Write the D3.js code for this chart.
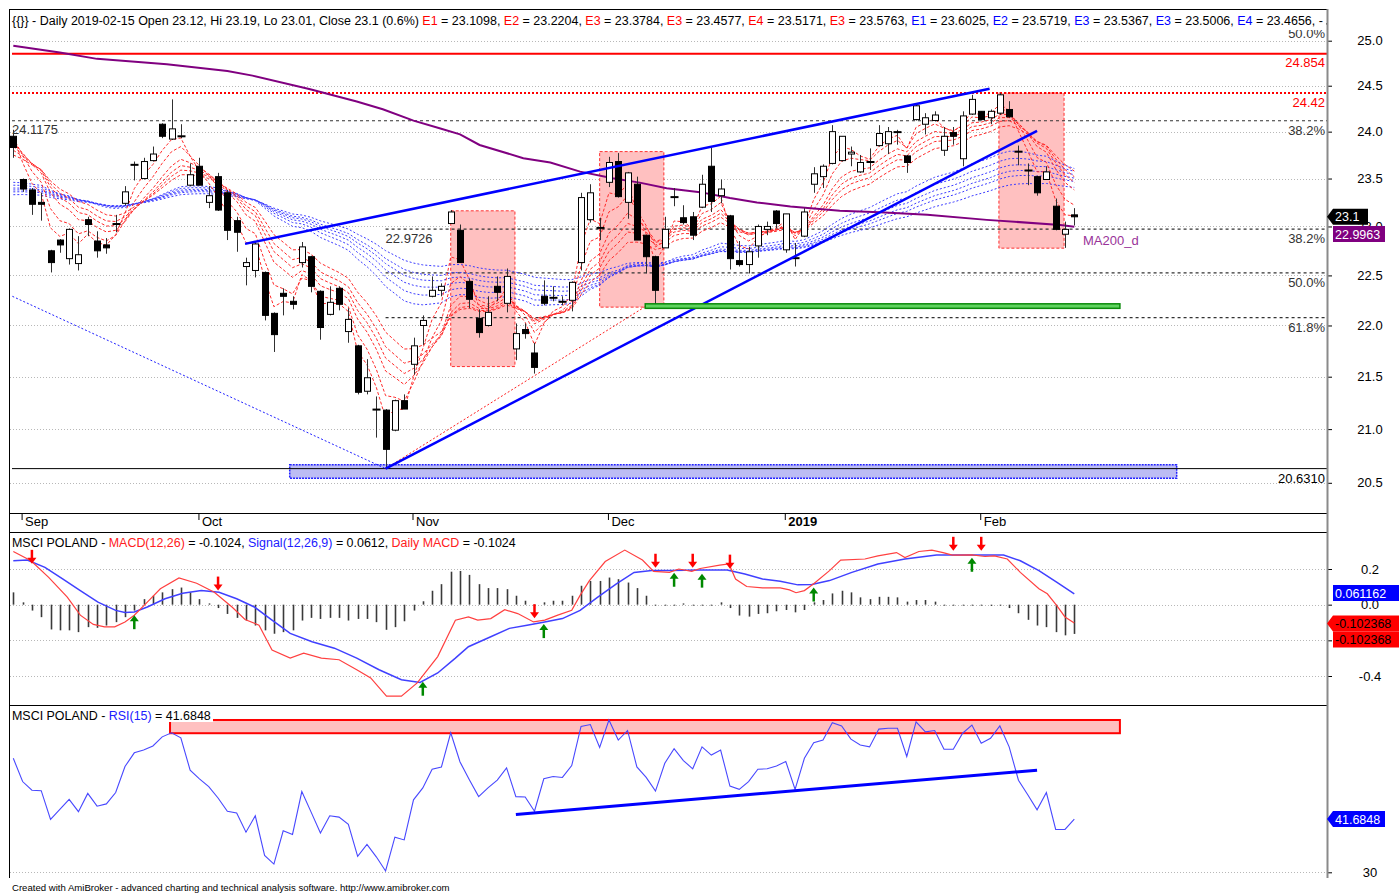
<!DOCTYPE html>
<html><head><meta charset="utf-8">
<script src="https://cdn.jsdelivr.net/npm/d3@7/dist/d3.min.js"></script>
<style>
html,body{margin:0;padding:0;background:#fff;}
svg{display:block;font-family:"Liberation Sans",Arial,sans-serif;}
</style></head><body>
<svg id="chart" width="1399" height="894"></svg>
<script>
// ---------------- DATA ----------------
const openP=[23.95,23.49,23.38,23.25,22.75,22.86,22.67,22.62,23.07,22.85,
22.81,23.03,23.24,23.64,23.50,23.69,24.08,23.92,23.95,23.43,
23.63,23.25,23.52,23.35,23.06,22.59,22.55,22.53,22.12,22.32,
22.24,22.63,22.69,22.34,22.11,22.37,21.94,21.80,21.36,21.19,
21.18,20.99,21.27,21.62,22.00,22.29,22.35,23.03,22.96,22.44,
22.07,22.00,22.39,22.22,21.77,21.96,21.73,22.29,22.28,22.24,
22.25,22.63,23.07,22.99,23.46,23.68,23.25,23.44,22.91,22.69,
22.78,23.30,23.09,23.10,23.20,23.63,23.32,23.11,22.65,22.61,
22.80,22.97,23.16,22.76,22.68,22.90,23.44,23.52,23.66,23.69,
23.76,23.57,23.68,23.85,23.87,23.99,23.74,24.13,24.08,24.12,
23.80,23.99,23.71,24.19,24.22,24.15,24.20,24.24,23.79,23.59,
23.52,23.49,23.21,22.92,23.12];
const highP=[24.02,23.50,23.40,23.35,22.76,22.87,22.98,22.90,23.10,22.95,
22.88,23.12,23.42,23.68,23.72,23.84,24.09,24.35,24.08,23.66,
23.72,23.42,23.56,23.38,23.10,22.68,22.84,22.54,22.13,22.37,
22.29,22.84,22.70,22.35,22.39,22.39,22.17,21.81,21.67,21.31,
21.19,21.28,21.33,21.88,22.10,22.49,22.42,23.17,23.02,22.47,
22.16,22.29,22.49,22.57,22.02,22.02,21.83,22.45,22.39,22.29,
22.44,23.35,23.44,23.09,23.73,23.77,23.57,23.52,22.91,22.70,
23.10,23.40,23.22,23.15,23.54,23.83,23.49,23.12,22.85,22.79,
23.02,23.05,23.17,23.13,22.83,23.19,23.62,23.65,24.07,23.95,
23.84,23.75,23.82,24.07,24.05,24.02,23.75,24.29,24.20,24.22,
24.05,24.05,24.22,24.40,24.22,24.24,24.42,24.33,23.85,23.66,
23.53,23.63,23.29,23.05,23.19];
const lowP=[23.72,23.36,23.12,23.06,22.53,22.73,22.61,22.55,22.90,22.68,
22.72,22.94,23.22,23.48,23.49,23.68,23.93,23.91,23.93,23.42,
23.43,23.19,23.16,22.86,22.74,22.40,22.48,22.05,21.74,22.10,
22.16,22.58,22.33,21.86,22.10,22.15,21.83,21.33,21.33,20.92,
20.631,20.98,21.19,21.52,21.81,22.28,22.29,23.03,22.63,22.17,
21.88,21.99,22.24,22.13,21.66,21.87,21.53,22.20,22.24,22.20,
22.14,22.55,23.04,22.86,23.41,23.30,23.08,22.86,22.52,22.20,
22.78,23.21,23.02,22.86,23.19,23.15,23.24,22.56,22.59,22.52,
22.68,22.91,22.98,22.73,22.59,22.89,23.35,23.40,23.65,23.68,
23.63,23.56,23.59,23.84,23.76,23.86,23.56,24.12,23.97,24.11,
23.74,23.86,23.63,24.18,24.12,24.08,24.18,24.15,23.64,23.43,
23.32,23.49,22.96,22.78,23.01];
const closeP=[23.83,23.39,23.23,23.23,22.63,22.81,22.97,22.71,23.02,22.75,
22.78,23.02,23.36,23.65,23.68,23.76,23.95,24.03,23.95,23.54,
23.43,23.32,23.17,22.96,22.94,22.63,22.82,22.10,21.91,22.29,
22.21,22.79,22.39,21.98,22.23,22.21,22.06,21.35,21.49,21.18,
20.81,21.27,21.19,21.80,22.05,22.35,22.39,23.15,22.63,22.26,
21.93,22.13,22.33,22.49,21.92,21.92,21.59,22.22,22.27,22.23,
22.43,23.30,23.35,22.98,23.67,23.31,23.56,22.86,22.69,22.35,
22.97,23.31,23.04,22.91,23.44,23.26,23.39,22.67,22.61,22.74,
23.00,23.00,23.03,23.13,22.67,23.15,23.55,23.63,24.00,23.95,
23.78,23.67,23.67,23.98,24.00,24.00,23.67,24.28,24.15,24.18,
23.95,23.95,24.17,24.35,24.13,24.22,24.40,24.16,23.78,23.58,
23.35,23.57,22.97,22.97,23.10];

const monthLabels=["Sep","Oct","Nov","Dec","2019","Feb"];
const monthIdx=[1,20,43,64,83,104];

const priceTicks=[25,24.5,24,23.5,23,22.5,22,21.5,21,20.5];
const macdTicks=[0.2,0,-0.2,-0.4];
const macdTickLabels=["0.2","0.0","","-0.4"]; // -0.2 is hidden behind the value tags
const rsiTicks=[30];

// MA200: [bar index, value]
const ma200Pts=[[0,24.944],[5,24.867],[9,24.797],[16.5,24.738],[23,24.663],[25.7,24.611],[31.9,24.461],[36.9,24.326],[39.7,24.243],[43,24.119],[45.8,24.036],[48,23.971],[50.1,23.857],[54.8,23.716],[57.7,23.669],[60.9,23.573],[64.4,23.503],[67.3,23.457],[70.2,23.399],[73.8,23.357],[77,23.295],[79.9,23.249],[83.5,23.207],[88.8,23.162],[93.1,23.148],[98.2,23.12],[104.6,23.068],[112.5,23.016],[114,22.996]];

// Guppy EMA groups
const emaShortPeriods=[3,5,8,10,12,15];
const emaShortSeed=[23.95,23.93,23.88,23.84,23.80,23.75];
const emaLongPeriods=[30,35,40,45,50,60];
const emaLongSeed=[23.46,23.43,23.40,23.38,23.36,23.33];

// MACD panel
const macdPts=[[0,0.298],[1.9,0.246],[3.8,0.153],[5.8,0.042],[7.2,-0.059],[8.6,-0.111],[9.8,-0.124],[10.9,-0.124],[12,-0.097],[13,-0.059],[14.4,0.014],[15.8,0.089],[17.8,0.15],[19.7,0.12],[21.6,0.07],[23.5,-0.013],[24.9,-0.083],[26.4,-0.115],[27.8,-0.254],[29.75,-0.3],[31.2,-0.272],[33.1,-0.3],[35,-0.309],[36.9,-0.365],[38.4,-0.411],[40.1,-0.513],[41.7,-0.513],[43.4,-0.439],[45.6,-0.291],[47.5,-0.087],[48.9,-0.069],[49.9,-0.087],[51.3,-0.078],[52.8,-0.028],[54.2,-0.05],[55.9,-0.097],[57.1,-0.087],[58.5,-0.059],[60,-0.032],[60.9,0.052],[61.9,0.135],[63.6,0.242],[65.7,0.306],[67.6,0.25],[68.8,0.187],[70.5,0.181],[71.5,0.2],[72.9,0.187],[73.8,0.203],[75.9,0.222],[76.9,0.228],[77.6,0.144],[78.8,0.102],[80.5,0.094],[82.4,0.094],[83.4,0.083],[84.1,0.067],[85,0.079],[86,0.117],[87.7,0.191],[88.9,0.25],[91.5,0.256],[92.9,0.274],[94.9,0.292],[95.8,0.264],[97.3,0.298],[98.7,0.306],[99.9,0.292],[100.9,0.278],[103,0.279],[104.4,0.27],[105.4,0.274],[106.8,0.256],[108.2,0.181],[110.2,0.089],[111.1,0.061],[112.1,-0.004],[113,-0.069],[114,-0.1024]];
const signalPts=[[0,0.246],[1.5,0.25],[3.4,0.209],[5.3,0.144],[7.2,0.079],[9.1,0.014],[11,-0.032],[12,-0.044],[13,-0.041],[14.4,-0.013],[16.3,0.033],[18.2,0.064],[20.2,0.079],[22.1,0.07],[24,0.033],[25.9,-0.013],[27.8,-0.087],[29.75,-0.161],[32.1,-0.208],[34.5,-0.244],[36.9,-0.3],[39.3,-0.365],[41.7,-0.421],[43.7,-0.436],[45.6,-0.383],[47.5,-0.3],[48.9,-0.236],[51.3,-0.18],[53.3,-0.133],[55.2,-0.115],[57.1,-0.097],[59,-0.078],[60.9,-0.032],[62.8,0.042],[64.8,0.117],[66.7,0.181],[68.6,0.191],[70.5,0.191],[73.8,0.194],[76.7,0.194],[78.6,0.172],[80.5,0.144],[82.4,0.131],[84.3,0.111],[85.8,0.113],[87.7,0.135],[90.1,0.181],[92.9,0.228],[95.8,0.256],[99.2,0.279],[102.5,0.279],[106.4,0.278],[108.2,0.246],[110.2,0.191],[112.1,0.126],[114,0.0612]];
const histVals=[0.069,0.013,-0.033,-0.07,-0.139,-0.144,-0.144,-0.154,-0.126,-0.13,
-0.117,-0.098,-0.07,-0.033,0.031,0.05,0.069,0.087,0.096,0.069,
0.031,0.007,-0.019,-0.052,-0.074,-0.089,-0.117,-0.144,-0.163,-0.154,
-0.144,-0.089,-0.074,-0.08,-0.074,-0.074,-0.089,-0.08,-0.08,-0.098,
-0.141,-0.126,-0.093,-0.033,0.019,0.078,0.115,0.185,0.189,0.167,
0.115,0.093,0.093,0.087,0.05,0.022,-0.005,0.013,0.022,0.022,
0.05,0.106,0.133,0.133,0.152,0.143,0.124,0.093,0.05,-0.005,
0.004,0.003,0.007,0,0,0.004,0.013,-0.019,-0.061,-0.067,
-0.052,-0.048,-0.037,-0.03,-0.043,-0.03,0.013,0.026,0.063,0.078,
0.069,0.041,0.031,0.044,0.044,0.041,0.017,0.026,0.026,0.017,
0.004,0,0,0,0,-0.007,0,-0.019,-0.048,-0.085,
-0.117,-0.126,-0.154,-0.172,-0.164];
const sellArrows=[[2,0.229],[22,0.079],[56,-0.076],[69,0.207],[73,0.207],[77,0.202],[101,0.302],[104,0.302]];
const buyArrows=[[13,-0.059],[44,-0.432],[57,-0.109],[71,0.179],[74,0.174],[86,0.096],[103,0.263]];

// RSI panel
const rsiVals=[55.0,49.9,48.0,47.9,41.6,43.8,46.0,43.3,47.3,44.5,
45.0,47.5,53.2,56.2,56.8,57.7,59.7,60.6,59.5,52.4,
50.5,48.8,46.3,43.4,43.0,38.8,42.4,33.7,31.8,39.1,
38.3,47.7,43.2,38.6,42.4,42.1,40.5,33.5,36.1,33.4,
30.3,37.7,37.1,45.9,48.5,52.6,53.1,60.6,54.2,50.3,
46.6,48.5,50.2,52.9,46.6,46.5,43.4,50.5,51.0,50.8,
53.4,62.0,62.4,57.4,63.4,59.0,61.1,53.1,50.8,47.8,
53.9,57.1,54.5,52.7,57.5,55.7,56.8,48.9,48.2,49.9,
52.6,52.7,53.3,54.3,48.2,55.0,58.4,59.0,62.8,62.1,
59.2,57.9,57.5,61.4,61.6,61.6,55.4,63.0,60.8,61.1,
57.0,57.0,60.5,62.3,58.3,59.4,62.1,57.5,50.2,47.0,
43.7,47.5,39.4,39.4,41.6848];

// Drawn objects (bar index / value)
const zoneStart=[47.0,63.0,105.9], zoneEnd=[53.9,69.9,112.9];
const zoneHigh=[23.162,23.786,24.42], zoneLow=[21.598,22.182,22.777];
const supportZone=[29.7,125.0,20.666,20.542];
const greenZone=[67.9,118.9,22.215,22.17];
const trendUpper=[[24.9,22.821],[104.9,24.467]];
const trendLower=[[40,20.631],[110.0,24.009]];
const trendDashBlue=[[-0.1,22.29],[40,20.631]];
const trendDashRed=[[40,20.631],[67.9,22.187]];
const resistSolid=24.854, resistDotted=24.42, supportLine=20.631;
const fibUpperVals=[24.1175,25.19], fibUpperLabels=["38.2%","50.0%"];
const fibLowerVals=[22.9726,22.5255,22.0784], fibLowerLabels=["38.2%","50.0%","61.8%"];
const rsiZone=[16.84,118.9,63.4,60.5];
const rsiTrend=[[54.0,42.7],[110.0,52.4]];

const headerPrefix="{{}} - Daily 2019-02-15 Open 23.12, Hi 23.19, Lo 23.01, Close 23.1 (0.6%) ";
const redNames=["E1","E2","E3","E3","E4","E3"], redVals=["23.1098","23.2204","23.3784","23.4577","23.5171","23.5763"];
const blueNames=["E1","E2","E3","E3","E4"], blueVals=["23.6025","23.5719","23.5367","23.5006","23.4656"];

// ---------------- LAYOUT ----------------
const R=1327, Lx=9;
const svg=d3.select("#chart");
const x=d3.scaleLinear().domain([0,114]).range([13.3,1074.3]);
const yP=d3.scaleLog().domain([25,20.5]).range([40.7,482.8]);
const yM=d3.scaleLinear().domain([0.2,-0.4]).range([569,676]);
const yR=d3.scaleLinear().domain([30,60]).range([872.3,735.5]);

const defs=svg.append("defs");
function clip(id,x0,y0,x1,y1){defs.append("clipPath").attr("id",id).append("rect").attr("x",x0).attr("y",y0).attr("width",x1-x0).attr("height",y1-y0);}
clip("cp",10,10,R,513); clip("cm",10,533,R,705); clip("cr",10,706,R,878);

// multi-colour line of text: font size chosen so the natural width fits the target width
function segText(x0,y,segs,totalW,baseSize){
  const els=segs.map(([s,c])=>svg.append("text").attr("y",y).attr("fill",c).style("font-size",baseSize+"px").style("white-space","pre").text(s));
  const tot=d3.sum(els.map(e=>e.node().getComputedTextLength()));
  const size=baseSize*totalW/tot;
  els.forEach(e=>e.style("font-size",size+"px"));
  let cx=x0;
  els.forEach(e=>{e.attr("x",cx);cx+=e.node().getComputedTextLength();});
}

// grid
function hgrid(vals,scale){vals.forEach(v=>{svg.append("line").attr("x1",10).attr("x2",R).attr("y1",Math.round(scale(v))+0.5).attr("y2",Math.round(scale(v))+0.5).attr("stroke","#b8b8b8").attr("stroke-dasharray","1,2");});}
hgrid(priceTicks,yP); hgrid(macdTicks,yM); hgrid(rsiTicks,yR);

// ---------------- PRICE PANE ----------------
const pp=svg.append("g").attr("clip-path","url(#cp)");
zoneStart.forEach((s,k)=>{
  pp.append("rect").attr("x",x(s)).attr("y",yP(zoneHigh[k])).attr("width",x(zoneEnd[k])-x(s)).attr("height",yP(zoneLow[k])-yP(zoneHigh[k]))
    .attr("fill","#ffc0c0").attr("stroke","#ff3030").attr("stroke-dasharray","3,2").attr("stroke-width",1);
});
pp.append("rect").attr("x",x(supportZone[0])).attr("y",yP(supportZone[2])).attr("width",x(supportZone[1])-x(supportZone[0])).attr("height",yP(supportZone[3])-yP(supportZone[2]))
  .attr("fill","#bcbcf4").attr("stroke","#2020ff").attr("stroke-width",1.5).attr("stroke-dasharray","2,1");
function hline(v,x0,col,w,dash){const yy=yP(v);const l=pp.append("line").attr("x1",x0).attr("x2",R).attr("y1",yy).attr("y2",yy).attr("stroke",col).attr("stroke-width",w);if(dash)l.attr("stroke-dasharray",dash);}
hline(resistSolid,12,"#ff0000",2,null);
hline(resistDotted,12,"#ff0000",2,"2,2");
hline(supportLine,12,"#000",1,null);
fibUpperVals.forEach(v=>hline(v,12,"#333",1.2,"3,3"));
fibLowerVals.forEach(v=>hline(v,x(40),"#333",1.2,"3,3"));

function ema(period,seed){const a=2/(period+1);let e=seed;return closeP.map((c,i)=>{if(i>0)e+=a*(c-e);return e;});}
const lineP=d3.line().x((d,i)=>x(i)).y(d=>yP(d));
emaLongPeriods.forEach((p,k)=>{pp.append("path").attr("d",lineP(ema(p,emaLongSeed[k]))).attr("fill","none").attr("stroke","#3c3cff").attr("stroke-width",1).attr("stroke-dasharray","2,2");});
emaShortPeriods.forEach((p,k)=>{pp.append("path").attr("d",lineP(ema(p,emaShortSeed[k]))).attr("fill","none").attr("stroke","#ff2a2a").attr("stroke-width",1).attr("stroke-dasharray","3,2");});

const linePts=(sy)=>d3.line().x(d=>x(d[0])).y(d=>sy(d[1]));
pp.append("path").attr("d",linePts(yP)(ma200Pts)).attr("fill","none").attr("stroke","#800080").attr("stroke-width",2);

const idx=d3.range(closeP.length);
const cg=pp.append("g");
cg.selectAll("line.w").data(idx).join("line").attr("class","w")
  .attr("x1",i=>Math.round(x(i))+0.5).attr("x2",i=>Math.round(x(i))+0.5)
  .attr("y1",i=>yP(highP[i])).attr("y2",i=>yP(lowP[i])).attr("stroke","#303030").attr("stroke-width",1);
idx.forEach(i=>{
  const xc=Math.round(x(i))+0.5, o=openP[i], c=closeP[i];
  const yt=yP(Math.max(o,c)), yb=yP(Math.min(o,c));
  if(yb-yt<1.6){cg.append("line").attr("x1",xc-4).attr("x2",xc+4).attr("y1",(yt+yb)/2).attr("y2",(yt+yb)/2).attr("stroke","#000").attr("stroke-width",2);}
  else{cg.append("rect").attr("x",xc-3).attr("y",yt).attr("width",6).attr("height",yb-yt).attr("fill",c>=o?"#fff":"#000").attr("stroke","#000").attr("stroke-width",1);}
});

pp.append("path").attr("d",linePts(yP)(trendDashBlue)).attr("stroke","#2020ff").attr("stroke-width",1).attr("stroke-dasharray","2,2").attr("fill","none");
pp.append("path").attr("d",linePts(yP)(trendDashRed)).attr("stroke","#ff2020").attr("stroke-width",1).attr("stroke-dasharray","2,2").attr("fill","none");
pp.append("path").attr("d",linePts(yP)(trendUpper)).attr("stroke","#0000ff").attr("stroke-width",2.5).attr("fill","none");
pp.append("path").attr("d",linePts(yP)(trendLower)).attr("stroke","#0000ff").attr("stroke-width",2.5).attr("fill","none");
pp.append("rect").attr("x",x(greenZone[0])).attr("y",yP(greenZone[2])).attr("width",x(greenZone[1])-x(greenZone[0])).attr("height",yP(greenZone[3])-yP(greenZone[2]))
  .attr("fill","#5fd35f").attr("stroke","#0a8a0a").attr("stroke-width",1.5);

const txt=(xx,yy,s,col,anchor,size)=>svg.append("text").attr("x",xx).attr("y",yy).attr("fill",col||"#000").attr("text-anchor",anchor||"start").style("font-size",(size||13)+"px").text(s);
txt(12,yP(fibUpperVals[0])+13,"24.1175","#333");
txt(x(40),yP(fibLowerVals[0])+14,"22.9726","#333");
fibUpperLabels.forEach((l,k)=>txt(1325,yP(fibUpperVals[k])+14,l,"#333","end"));
fibLowerLabels.forEach((l,k)=>txt(1325,yP(fibLowerVals[k])+14,l,"#333","end"));
txt(1325,yP(resistSolid)+13,"24.854","#ff0000","end");
txt(1325,yP(resistDotted)+14,"24.42","#ff0000","end");
txt(1325,yP(supportLine)+14,"20.6310","#000","end");
txt(1083,245,"MA200_d","#993399");

// ---------------- MACD PANE ----------------
const mp=svg.append("g").attr("clip-path","url(#cm)");
mp.selectAll("line.h").data(idx).join("line").attr("class","h")
  .attr("x1",i=>Math.round(x(i))+0.5).attr("x2",i=>Math.round(x(i))+0.5)
  .attr("y1",yM(0)).attr("y2",i=>{const y2=yM(histVals[i]);return Math.abs(y2-yM(0))<1?yM(0)+1:y2;})
  .attr("stroke","#3a3a3a").attr("stroke-width",1.6);
mp.append("path").attr("d",linePts(yM)(signalPts)).attr("fill","none").attr("stroke","#4040ff").attr("stroke-width",1.5);
mp.append("path").attr("d",linePts(yM)(macdPts)).attr("fill","none").attr("stroke","#ff4040").attr("stroke-width",1.2);
sellArrows.forEach(([i,v])=>{
  const xc=x(i), yt=yM(v);
  mp.append("line").attr("x1",xc).attr("x2",xc).attr("y1",yt-14).attr("y2",yt-5).attr("stroke","#ff0000").attr("stroke-width",2.5);
  mp.append("path").attr("d",`M${xc-4.5},${yt-6} L${xc+4.5},${yt-6} L${xc},${yt} Z`).attr("fill","#ff0000");
});
buyArrows.forEach(([i,v])=>{
  const xc=x(i), yt=yM(v);
  mp.append("line").attr("x1",xc).attr("x2",xc).attr("y1",yt+5).attr("y2",yt+14).attr("stroke","#008800").attr("stroke-width",2.5);
  mp.append("path").attr("d",`M${xc-4.5},${yt+6} L${xc+4.5},${yt+6} L${xc},${yt} Z`).attr("fill","#008800");
});

// ---------------- RSI PANE ----------------
const rp=svg.append("g").attr("clip-path","url(#cr)");
rp.append("rect").attr("x",x(rsiZone[0])).attr("y",yR(rsiZone[2])).attr("width",x(rsiZone[1])-x(rsiZone[0])).attr("height",yR(rsiZone[3])-yR(rsiZone[2]))
  .attr("fill","#ffc0c0").attr("stroke","#ff0000").attr("stroke-width",2);
rp.append("path").attr("d",d3.line().x((d,i)=>x(i)).y(d=>yR(d))(rsiVals)).attr("fill","none").attr("stroke","#4848ff").attr("stroke-width",1.1);
rp.append("path").attr("d",linePts(yR)(rsiTrend)).attr("fill","none").attr("stroke","#0000ff").attr("stroke-width",3);

// ---------------- FRAMES ----------------
const fr=svg.append("g").attr("shape-rendering","crispEdges");
fr.append("line").attr("x1",Lx+0.5).attr("x2",Lx+0.5).attr("y1",9).attr("y2",878).attr("stroke","#000");
[9.5,513.5,532.5,705.5].forEach(yy=>fr.append("line").attr("x1",Lx).attr("x2",R).attr("y1",yy).attr("y2",yy).attr("stroke","#000"));

// header
svg.append("rect").attr("x",10).attr("y",10).attr("width",R-11).attr("height",20).attr("fill","#fff");
const hsegs=[[headerPrefix,"#000"]];
redNames.forEach((n,k)=>{hsegs.push([n,"#ff0000"]);hsegs.push([" = "+redVals[k]+", ","#000"]);});
blueNames.forEach((n,k)=>{hsegs.push([n,"#0000ff"]);hsegs.push([" = "+blueVals[k]+(k<blueNames.length-1?", ":", -"),"#000"]);});
segText(12,25,hsegs,1311,14);

// MACD title
segText(12,547,[["MSCI POLAND - ","#000"],["MACD(12,26)","#ff2020"],[" = -0.1024, ","#000"],["Signal(12,26,9)","#2020ff"],[" = 0.0612, ","#000"],["Daily MACD","#ff2020"],[" = -0.1024","#000"]],504,14);
// RSI title
svg.append("rect").attr("x",10).attr("y",707).attr("width",203).attr("height",15).attr("fill","#fff");
segText(12,720,[["MSCI POLAND - ","#000"],["RSI(15)","#2020ff"],[" = 41.6848","#000"]],199,14);

// ---------------- AXES ----------------
function rightAxis(scale,ticks,fmt){
  const g=svg.append("g").attr("transform",`translate(${R},0)`).call(d3.axisRight(scale).tickValues(ticks).tickFormat(fmt).tickSize(5));
  g.select(".domain").remove();
  g.selectAll("line").attr("stroke","#000");
  g.selectAll("text").attr("x",43).attr("text-anchor","middle").style("font-size","13px").style("font-family","Liberation Sans, Arial, sans-serif").attr("fill","#000");
  g.selectAll("text").filter(function(){return this.textContent==="";}).remove();
}
rightAxis(yP,priceTicks,d=>d.toFixed(1));
rightAxis(yM,macdTicks,(d,i)=>macdTickLabels[i]);
rightAxis(yR,rsiTicks,d=>d.toFixed(0));
svg.append("line").attr("x1",R+0.5).attr("x2",R+0.5).attr("y1",9).attr("y2",878).attr("stroke","#8a8a8a").attr("stroke-width",2);

// date axis
const gx=svg.append("g").attr("transform","translate(-1,514)").call(d3.axisBottom(x).tickValues(monthIdx).tickFormat((d,i)=>monthLabels[i]).tickSize(6));
gx.select(".domain").remove();
gx.selectAll("line").attr("stroke","#000");
gx.selectAll("text").attr("text-anchor","start").attr("x",3).attr("y",3).attr("dy","0.71em")
  .style("font-size","13px").style("font-family","Liberation Sans, Arial, sans-serif").attr("fill","#000")
  .style("font-weight",(d,i)=>monthLabels[i]==="2019"?"bold":"normal");

// value tags
function valueTag(yc,t,fill,tcol,pointer,x1){
  const h=16,x0=1333,g=svg.append("g");
  if(pointer)g.append("path").attr("d",`M${R},${yc} L${x0},${yc-h/2} L${x1},${yc-h/2} L${x1},${yc+h/2} L${x0},${yc+h/2} Z`).attr("fill",fill);
  else g.append("rect").attr("x",x0).attr("y",yc-h/2).attr("width",x1-x0).attr("height",h).attr("fill",fill);
  g.append("text").attr("x",x0+2).attr("y",yc+4.5).attr("fill",tcol).style("font-size","12.5px").text(t);
}
valueTag(yP(closeP[114]),"23.1","#000","#fff",true,1368);
valueTag(234,"22.9963","#800080","#fff",false,1385);
valueTag(593,"0.061162","#0000ff","#fff",false,1399);
valueTag(623.5,"-0.102368","#ff0000","#000",true,1399);
valueTag(639.5,"-0.102368","#ff0000","#000",false,1399);
valueTag(yR(41.6848),"41.6848","#0000ff","#fff",true,1385);

// footer
segText(12,891,[["Created with AmiBroker - advanced charting and technical analysis software. http://www.amibroker.com","#000"]],438,11);
</script>
</body></html>
